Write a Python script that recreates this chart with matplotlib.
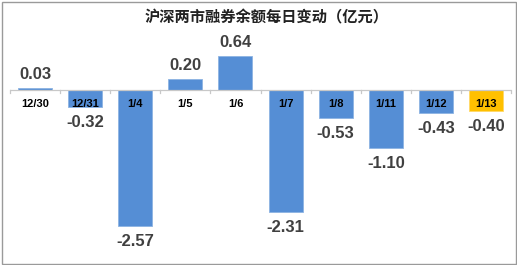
import matplotlib
matplotlib.use('Agg')
import matplotlib.pyplot as plt
from matplotlib.patches import Rectangle

# 数据
dates = ['12/30', '12/31', '1/4', '1/5', '1/6', '1/7', '1/8', '1/11', '1/12', '1/13']
changes = [0.03, -0.32, -2.57, 0.20, 0.64, -2.31, -0.53, -1.10, -0.43, -0.40]
bar_colors = ['#558ed5'] * 9 + ['#ffc000']
edge_colors = ['#8db3e2'] * 9 + ['#ffd966']

plt.rcParams['font.family'] = ['Liberation Sans', 'Noto Sans CJK SC', 'DejaVu Sans']

fig = plt.figure(figsize=(5.17, 2.65), dpi=100)
ax = fig.add_axes([10 / 517, 10 / 265, 501 / 517, 215 / 265])

x = list(range(len(dates)))
ax.bar(x, changes, width=0.68, color=bar_colors, edgecolor=edge_colors, linewidth=0.6, zorder=2)
ax.axhline(0, color='#c8c8c8', linewidth=0.9, zorder=3)

ax.set_xlim(-0.5, len(dates) - 0.5)
ax.set_ylim(-3.113, 0.943)
ax.axis('off')

# 零线上的分隔刻度
for b in range(len(dates) + 1):
    ax.plot([b - 0.5, b - 0.5], [0, -0.06], color='#c8c8c8', linewidth=0.9, zorder=3, clip_on=False)

# 类别标签放在零线下方
for i, d in enumerate(dates):
    ax.annotate(d, (i, 0), xytext=(0, -14), textcoords='offset pixels',
                ha='center', va='center', fontsize=8, fontweight='bold', color='#000000', zorder=4)

# 数值标签
for i, v in enumerate(changes):
    if v >= 0:
        ax.annotate(f'{v:.2f}', (i, v), xytext=(0, 6), textcoords='offset pixels',
                    ha='center', va='bottom', fontsize=12, fontweight='bold', color='#404040')
    else:
        ax.annotate(f'{v:.2f}', (i, v), xytext=(0, -8), textcoords='offset pixels',
                    ha='center', va='top', fontsize=12, fontweight='bold', color='#404040')

fig.text(0.515, 1 - 17 / 265, '沪深两市融券余额每日变动（亿元）', ha='center', va='center',
         fontsize=11, fontweight='bold', color='#222222', family=['Noto Sans CJK SC', 'DejaVu Sans'])

# 外框
fig.patches.append(Rectangle((1.5 / 517, 1.5 / 265), 514 / 517, 262 / 265, transform=fig.transFigure,
                             fill=False, edgecolor='#9a9a9a', linewidth=1))

fig.savefig('out.png', dpi=100)
